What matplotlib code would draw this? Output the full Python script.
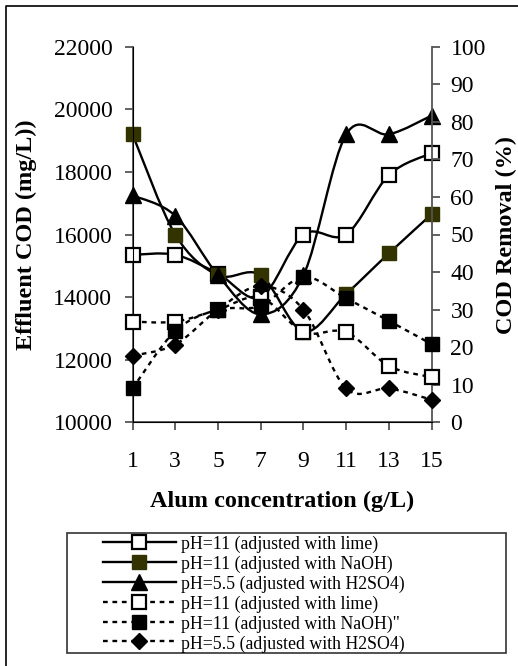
import matplotlib
matplotlib.use("Agg")
import matplotlib.pyplot as plt
from matplotlib.path import Path
from matplotlib.patches import PathPatch, Rectangle
from matplotlib.lines import Line2D
import numpy as np

plt.rcParams['font.family'] = ['Liberation Serif', 'DejaVu Serif']

alum = [1, 3, 5, 7, 9, 11, 13, 15]

# effluent COD (mg/L), left axis
cod_lime = [15350, 15350, 14750, 14000, 16000, 16000, 17900, 18600]
cod_naoh = [19200, 16000, 14700, 14700, 12900, 14100, 15400, 16650]
cod_h2so4 = [17250, 16600, 14700, 13450, 14700, 19200, 19200, 19800]

# COD removal (%), right axis
rem_lime = [26.8, 26.8, 30, 33.2, 24, 24, 15, 12]
rem_naoh = [9, 24.3, 30, 31, 38.7, 33, 27, 20.8]
rem_h2so4 = [17.7, 20.7, 30, 36.3, 30, 9, 9, 6]

labels = ["pH=11 (adjusted with lime)",
          "pH=11 (adjusted with NaOH)",
          "pH=5.5 (adjusted with H2SO4)",
          "pH=11 (adjusted with lime)",
          "pH=11 (adjusted with NaOH)\"",
          "pH=5.5 (adjusted with H2SO4)"]

olive = "#333300"
dash = (0, (2, 2))


def smooth_path(xs, ys):
    # excel-style smoothed line: bezier segments, catmull-rom tangents
    p = np.column_stack([xs, ys]).astype(float)
    verts = [p[0]]
    codes = [Path.MOVETO]
    n = len(p)
    for i in range(n - 1):
        p0 = p[i - 1] if i > 0 else p[i]
        p3 = p[i + 2] if i + 2 < n else p[i + 1]
        c1 = p[i] + (p[i + 1] - p0) / 6.0
        c2 = p[i + 1] - (p3 - p[i]) / 6.0
        verts += [c1, c2, p[i + 1]]
        codes += [Path.CURVE4] * 3
    return Path(verts, codes)


W, H = 518, 666
fig = plt.figure(figsize=(W / 100, H / 100), dpi=100)
ax = fig.add_axes([132.5 / W, 1 - 422.3 / H, (431.7 - 132.5) / W, (422.3 - 46.7) / H])
ax2 = ax.twinx()

styles = [
    (ax, cod_lime, '-', dict(marker='s', mfc='white', mec='black', ms=9.5, mew=1.6)),
    (ax, cod_naoh, '-', dict(marker='s', mfc=olive, mec=olive, ms=10, mew=1)),
    (ax, cod_h2so4, '-', dict(marker='^', mfc='black', mec='black', ms=11, mew=1)),
    (ax2, rem_lime, dash, dict(marker='s', mfc='white', mec='black', ms=9.5, mew=1.6)),
    (ax2, rem_naoh, dash, dict(marker='s', mfc='black', mec='black', ms=10, mew=1)),
    (ax2, rem_h2so4, dash, dict(marker='D', mfc='black', mec='black', ms=8.5, mew=1)),
]

handles = []
for a, ys, ls, mk in styles:
    a.add_patch(PathPatch(smooth_path(alum, ys), fill=False, ec='black',
                          lw=1.7, linestyle=ls, zorder=2, clip_on=False))
    a.plot(alum, ys, linestyle='none', zorder=3, clip_on=False, **mk)
    handles.append(Line2D([], [], color='black', lw=1.7, linestyle=ls, **mk))

ax.set_xlim(1, 15)
ax.set_ylim(10000, 22000)
ax2.set_ylim(0, 100)
ax.set_xticks(alum)
ax.set_yticks(np.arange(10000, 22001, 2000))
ax2.set_yticks(np.arange(0, 101, 10))

ax.spines['top'].set_visible(False)
ax2.spines['top'].set_visible(False)
ax.spines['right'].set_visible(False)
for sp in [ax.spines['left'], ax.spines['bottom'], ax2.spines['right']]:
    sp.set_color('#555555')
    sp.set_linewidth(1.3)

ax.tick_params(axis='y', direction='out', length=5.5, width=1.3, color='#555555',
               labelsize=17, pad=9)
ax.tick_params(axis='x', direction='out', length=6, width=1.3, color='#555555',
               labelsize=17, pad=15)
ax2.tick_params(axis='y', direction='out', length=5.5, width=1.3, color='#555555',
                labelsize=17, pad=8)

ax.set_xlabel("Alum concentration (g/L)", fontsize=17.5, fontweight='bold', labelpad=13)
ax.set_ylabel("Effluent COD (mg/L))", fontsize=17.5, fontweight='bold', labelpad=12)
ax2.set_ylabel("COD Removal (%)", fontsize=17.5, fontweight='bold', labelpad=7)

# border lines (left and top only) and legend box
fig.add_artist(Line2D([6 / W, 6 / W, 1.0], [0, 1 - 6 / H, 1 - 6 / H],
                      transform=fig.transFigure, color='black', lw=1.2))
fig.add_artist(Rectangle((67 / W, 1 - 653 / H), (506 - 67) / W, (653 - 533) / H,
                         transform=fig.transFigure, fill=False, ec='#333333', lw=1.2))

fig.legend(handles, labels, loc='upper left', bbox_to_anchor=(103 / W, 1 - 535 / H),
           frameon=False, fontsize=12.8, labelspacing=0.1, handlelength=4.1,
           handletextpad=0.3, borderpad=0, borderaxespad=0, handleheight=1.0)

fig.savefig("out.png", dpi=100)
